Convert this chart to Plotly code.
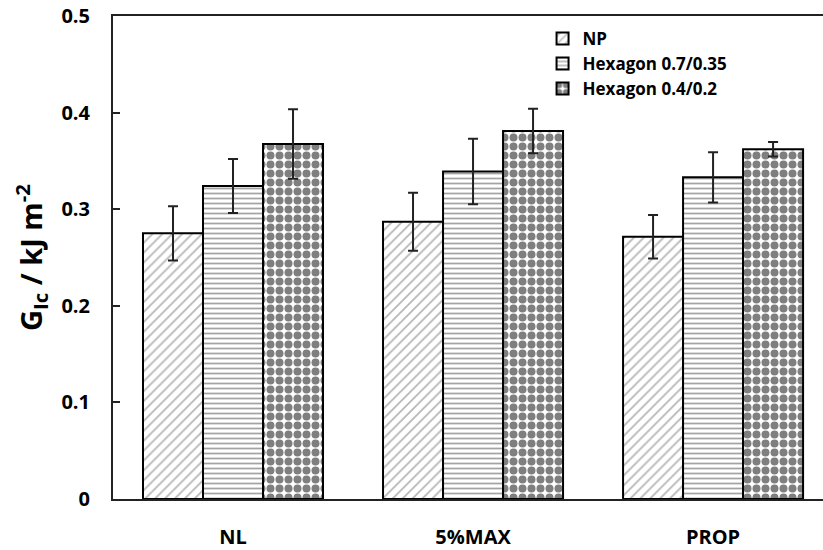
import plotly.graph_objects as go

categories = ["NL", "5%MAX", "PROP"]
series_names = ["NP", "Hexagon 0.7/0.35", "Hexagon 0.4/0.2"]
np_vals = [0.275, 0.287, 0.2715]
np_err = [0.028, 0.030, 0.0225]
hexa_vals = [0.324, 0.339, 0.333]
hexa_err = [0.028, 0.034, 0.026]
hexb_vals = [0.3675, 0.381, 0.362]
hexb_err = [0.036, 0.023, 0.0075]
y_ticks = [0, 0.1, 0.2, 0.3, 0.4, 0.5]
y_ticktext = ["0", "0.1", "0.2", "0.3", "0.4", "0.5"]

FONT = "Open Sans"

patterns = [
    dict(shape="/", size=7, solidity=0.25, fgcolor="#6e6e6e", bgcolor="white"),
    dict(shape="-", size=5, solidity=0.35, fgcolor="#4a4a4a", bgcolor="white"),
    dict(shape=".", size=9, solidity=0.62, fgcolor="black", bgcolor="white"),
]

fig = go.Figure()
for name, vals, errs, pat in zip(series_names,
                                 [np_vals, hexa_vals, hexb_vals],
                                 [np_err, hexa_err, hexb_err],
                                 patterns):
    fig.add_trace(go.Bar(
        name=name, x=categories, y=vals,
        marker=dict(color="white", pattern=pat,
                    line=dict(color="black", width=2)),
        error_y=dict(type="data", array=errs, visible=True,
                     color="#222222", thickness=2, width=5),
    ))

fig.update_layout(
    width=823, height=550,
    margin=dict(l=113, r=0, t=16, b=51),
    paper_bgcolor="white", plot_bgcolor="white",
    barmode="group", bargap=0.25, bargroupgap=0,
    font=dict(family=FONT, color="black"),
    showlegend=True,
    legend=dict(x=0.605, y=0.99, xanchor="left", yanchor="top",
                font=dict(family=FONT, size=17, color="black", weight="bold"),
                bgcolor="rgba(0,0,0,0)", tracegroupgap=0, itemwidth=30),
    xaxis=dict(
        range=[-0.5, 2.458], showgrid=False, ticks="",
        showline=True, linecolor="#222222", linewidth=2, mirror=True,
        tickfont=dict(family=FONT, size=20, color="black", weight="bold"),
        ticklabelstandoff=19,
    ),
    yaxis=dict(
        range=[0, 0.5], tickvals=y_ticks, ticktext=y_ticktext,
        showgrid=False, zeroline=False,
        showline=True, linecolor="#222222", linewidth=2,
        ticks="inside", ticklen=7, tickwidth=1.5, tickcolor="#222222",
        tickfont=dict(family=FONT, size=20, color="black", weight="bold"),
        ticklabelstandoff=17,
        title=dict(text="G<sub>Ic</sub> / kJ m<sup>-2</sup>",
                   font=dict(family=FONT, size=29, color="black", weight="bold"),
                   standoff=10),
    ),
)

fig.write_html("out.html")
